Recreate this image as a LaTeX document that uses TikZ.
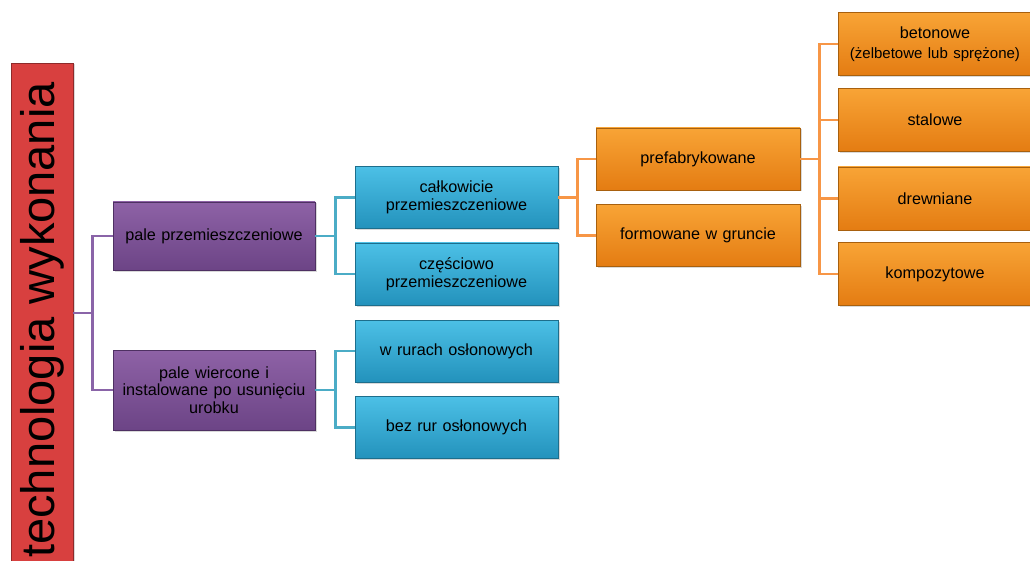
\documentclass[tikz,border=0pt]{standalone}
\usepackage{fontspec}
\setmainfont{Liberation Sans}
\usetikzlibrary{shadows}
\definecolor{redT}{HTML}{D8403F}
\definecolor{redD}{HTML}{8E2A2A}
\definecolor{purT}{HTML}{8E62A6}
\definecolor{purB}{HTML}{6C4486}
\definecolor{purD}{HTML}{4E3062}
\definecolor{bluT}{HTML}{4CC0E6}
\definecolor{bluB}{HTML}{2392BC}
\definecolor{bluD}{HTML}{1D6E8C}
\definecolor{oraT}{HTML}{F8A436}
\definecolor{oraB}{HTML}{E47C12}
\definecolor{oraD}{HTML}{A8600E}
\definecolor{pLine}{HTML}{8A64A8}
\definecolor{bLine}{HTML}{4BACC6}
\definecolor{oLine}{HTML}{F79646}
\begin{document}
\begin{tikzpicture}[x=1pt,y=-1pt,
  box/.style={rectangle, line width=0.6pt, align=center, inner sep=2pt,
    font=\fontsize{16.2}{17.5}\selectfont, text=black,
    drop shadow={opacity=0.3, shadow xshift=1.5pt, shadow yshift=-1.5pt}},
  redbox/.style={box, fill=redT, draw=redD, rotate=90, minimum width=514pt,
    minimum height=62pt, font=\fontsize{47}{50}\selectfont},
  pbox/.style={box, top color=purT, bottom color=purB, draw=purD,
    minimum width=202pt, text width=194pt},
  bbox/.style={box, top color=bluT, bottom color=bluB, draw=bluD,
    minimum width=203pt, text width=195pt, minimum height=62pt},
  obox/.style={box, top color=oraT, bottom color=oraB, draw=oraD,
    minimum width=204pt, text width=196pt, minimum height=62pt},
  rbox/.style={box, top color=oraT, bottom color=oraB, draw=oraD,
    minimum width=194pt, text width=190pt, minimum height=63pt},
  conn/.style={line width=2.5pt, line join=miter},
  pconn/.style={conn, draw=pLine},
  bconn/.style={conn, draw=bLine},
  oconn/.style={conn, draw=oLine}]
\useasboundingbox (0,0) rectangle (1030,561);
\clip (0,0) rectangle (1030,561);

% level 0
\node[redbox] (red) at (42,320) {technologia wykonania};

% level 1
\node[pbox, minimum height=68pt] (p1) at (214,236) {pale przemieszczeniowe};
\node[pbox, minimum height=80pt] (p2) at (214,390) {pale wiercone i\\instalowane po usunięciu\\urobku};

% level 2
\node[bbox] (b1) at (456.5,197.5) {całkowicie\\przemieszczeniowe};
\node[bbox] (b2) at (456.5,274) {częściowo\\przemieszczeniowe};
\node[bbox] (b3) at (456.5,351) {w rurach osłonowych};
\node[bbox] (b4) at (456.5,427.5) {bez rur osłonowych};

% level 3
\node[obox] (o1) at (698,159) {prefabrykowane};
\node[obox] (o2) at (698,235.5) {formowane w gruncie};

% level 4
\node[rbox] (r1) at (935,44) {betonowe\\[3pt]{\fontsize{15}{17}\selectfont(żelbetowe lub sprężone)}};
\node[rbox] (r2) at (935,120) {stalowe};
\node[rbox] (r3) at (935,198.5) {drewniane};
\node[rbox] (r4) at (935,274) {kompozytowe};

% connectors
\draw[pconn] ([yshift=7pt]red.south) -- ++(19,0) |- (p1.west);
\draw[pconn] ([yshift=7pt]red.south) -- ++(19,0) |- (p2.west);

\draw[bconn] (p1.east) -- ++(20,0) |- (b1.west);
\draw[bconn] (p1.east) -- ++(20,0) |- (b2.west);
\draw[bconn] (p2.east) -- ++(20,0) |- (b3.west);
\draw[bconn] (p2.east) -- ++(20,0) |- (b4.west);

\draw[oconn] (b1.east) -- ++(19,0) |- (o1.west);
\draw[oconn] (b1.east) -- ++(19,0) |- (o2.west);

\draw[oconn] (o1.east) -- ++(19,0) |- (r1.west);
\draw[oconn] (o1.east) -- ++(19,0) |- (r2.west);
\draw[oconn] (o1.east) -- ++(19,0) |- (r3.west);
\draw[oconn] (o1.east) -- ++(19,0) |- (r4.west);
\end{tikzpicture}
\end{document}
